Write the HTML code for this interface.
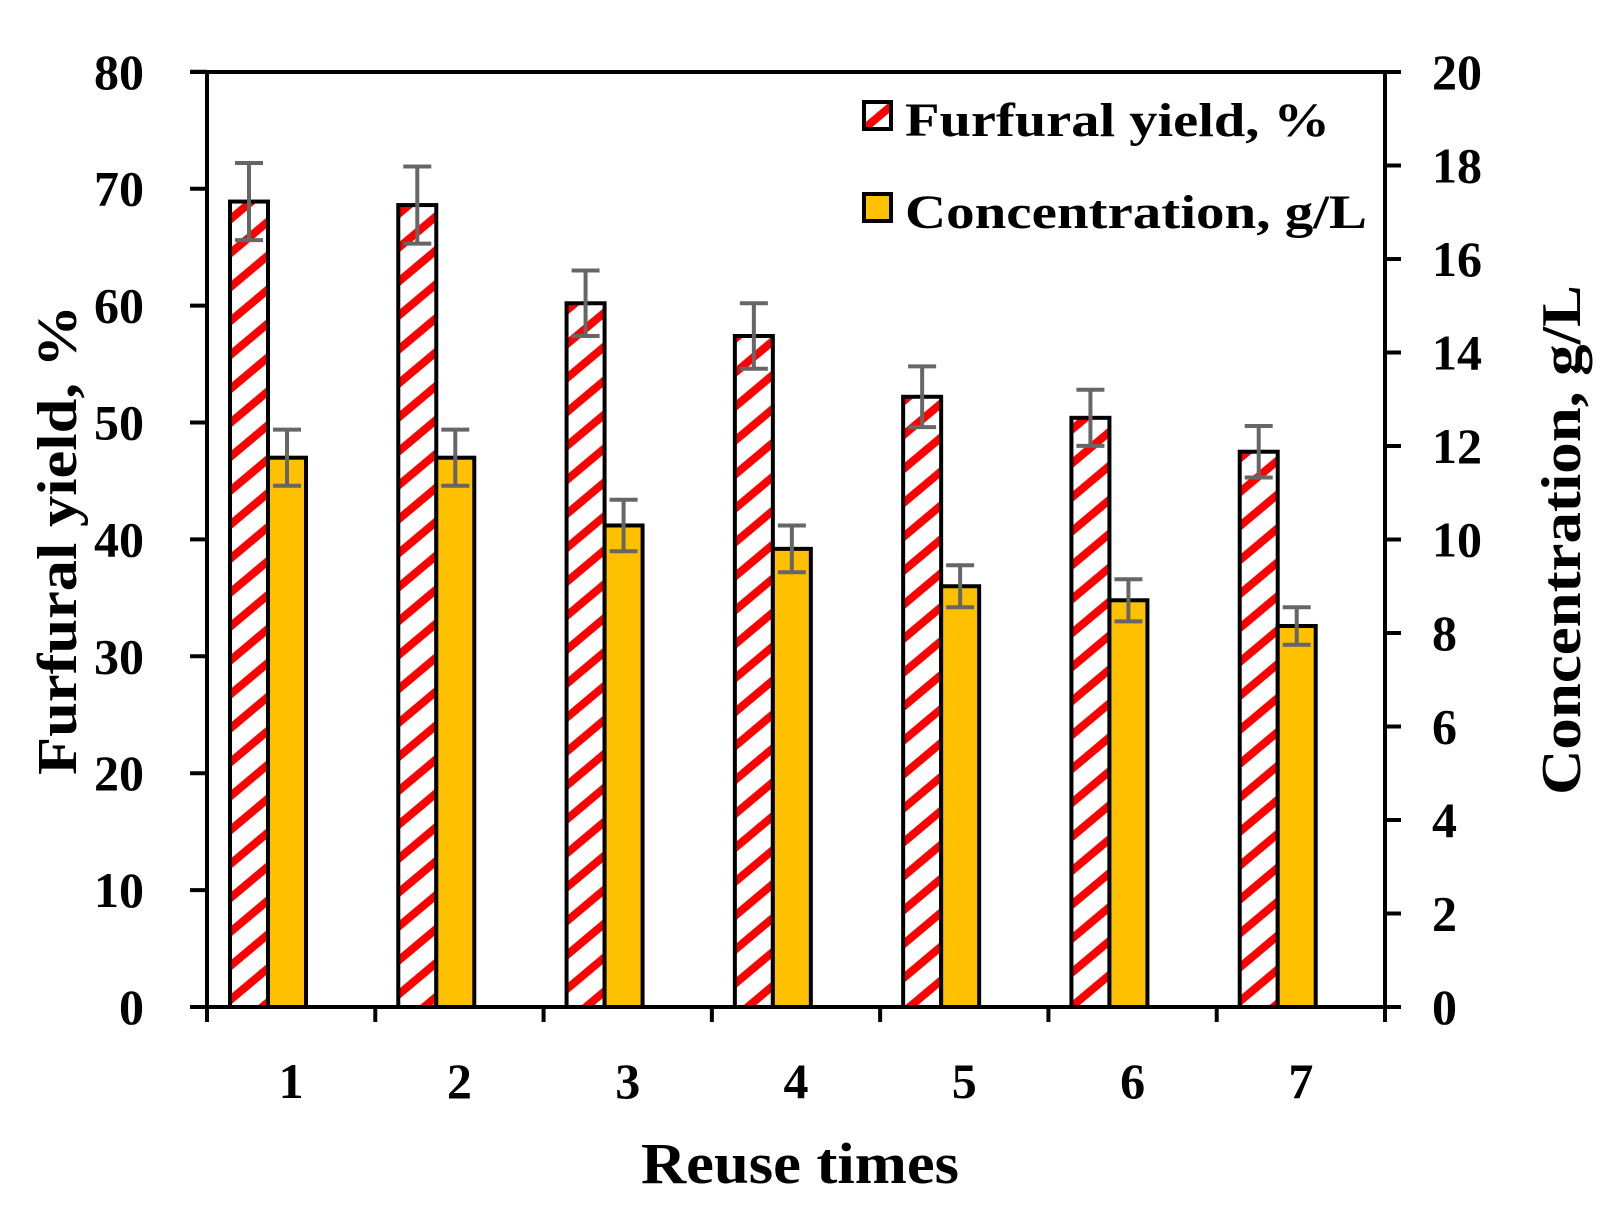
<!DOCTYPE html>
<html><head><meta charset="utf-8"><style>html,body{margin:0;padding:0;background:#fff}svg{display:block}</style></head>
<body>
<svg width="1612" height="1211" viewBox="0 0 1612 1211" xmlns="http://www.w3.org/2000/svg" font-family="'Liberation Serif', serif" font-weight="bold">
<defs>
<pattern id="h" patternUnits="userSpaceOnUse" width="26" height="26" patternTransform="rotate(-40)">
<rect width="26" height="26" fill="#fff"/><rect y="0" width="26" height="8" fill="#ff0000"/>
</pattern>
</defs>
<rect width="1612" height="1211" fill="#fff"/>
<g id="bars"></g>
<g stroke="#000" stroke-width="4" fill="none">
<line x1="190" y1="72" x2="1400" y2="72"/>
<line x1="190" y1="1007" x2="1400" y2="1007"/>
<line x1="207" y1="72" x2="207" y2="1022"/>
<line x1="1385" y1="72" x2="1385" y2="1022"/>
</g>
<g id="ticks" stroke="#000" stroke-width="4"></g>
<g id="labs" font-size="50" fill="#000"></g>
<text x="0" y="0" font-size="56" transform="translate(76,540) rotate(-90)" text-anchor="middle" textLength="470" lengthAdjust="spacingAndGlyphs">Furfural yield, %</text>
<text x="0" y="0" font-size="56" transform="translate(1580,540) rotate(-90)" text-anchor="middle" textLength="510" lengthAdjust="spacingAndGlyphs">Concentration, g/L</text>
<text x="800" y="1183" font-size="58" text-anchor="middle" textLength="318" lengthAdjust="spacingAndGlyphs">Reuse times</text>
<rect x="864" y="102" width="27" height="27" fill="url(#h)" stroke="#000" stroke-width="4"/>
<text x="905" y="136" font-size="48" textLength="425" lengthAdjust="spacingAndGlyphs">Furfural yield, %</text>
<rect x="864" y="194" width="27" height="27" fill="#ffc000" stroke="#000" stroke-width="4"/>
<text x="905" y="228" font-size="48" textLength="462" lengthAdjust="spacingAndGlyphs">Concentration, g/L</text>
<script>
const ns="http://www.w3.org/2000/svg";
function el(p,t,a,txt){const e=document.createElementNS(ns,t);for(const k in a)e.setAttribute(k,a[k]);if(txt!==undefined)e.textContent=txt;p.appendChild(e);return e;}
const Y=[68.9,68.6,60.2,57.4,52.2,50.4,47.5],YE=[3.3,3.3,2.8,2.8,2.6,2.4,2.2];
const C=[11.75,11.75,10.3,9.8,9.0,8.7,8.15],CE=[0.6,0.6,0.55,0.5,0.45,0.45,0.4];
const b=document.getElementById('bars'),t=document.getElementById('ticks'),l=document.getElementById('labs');
const cw=(1385-207)/7;
for(let i=0;i<7;i++){
 const s=207+cw*i;
 const y1=1007-Y[i]*11.69, y2=1007-C[i]*46.75;
 el(b,'rect',{x:s+23,y:y1,width:38,height:1007-y1,fill:'url(#h)',stroke:'#000','stroke-width':4});
 el(b,'rect',{x:s+61,y:y2,width:38,height:1007-y2,fill:'#ffc000',stroke:'#000','stroke-width':4});
 [[s+42,Y[i],YE[i],11.69],[s+80,C[i],CE[i],46.75]].forEach(([cx,v,e,k])=>{
  const a=1007-(v+e)*k,c=1007-(v-e)*k;
  el(b,'line',{x1:cx,y1:a,x2:cx,y2:c,stroke:'#666','stroke-width':4});
  el(b,'line',{x1:cx-14,y1:a,x2:cx+14,y2:a,stroke:'#666','stroke-width':4});
  el(b,'line',{x1:cx-14,y1:c,x2:cx+14,y2:c,stroke:'#666','stroke-width':4});
 });
 el(l,'text',{x:s+cw/2,y:1098,'text-anchor':'middle'},String(i+1));
}
for(let i=0;i<=7;i++){const x=207+cw*i;el(t,'line',{x1:x,y1:1007,x2:x,y2:1022});}
for(let v=0;v<=80;v+=10){const y=1007-v*11.69;el(t,'line',{x1:190,y1:y,x2:207,y2:y});el(l,'text',{x:144,y:y+17,'text-anchor':'end'},String(v));}
for(let v=0;v<=20;v+=2){const y=1007-v*46.75;el(t,'line',{x1:1385,y1:y,x2:1401,y2:y});el(l,'text',{x:1432,y:y+17},String(v));}
</script>
</svg>
</body></html>
